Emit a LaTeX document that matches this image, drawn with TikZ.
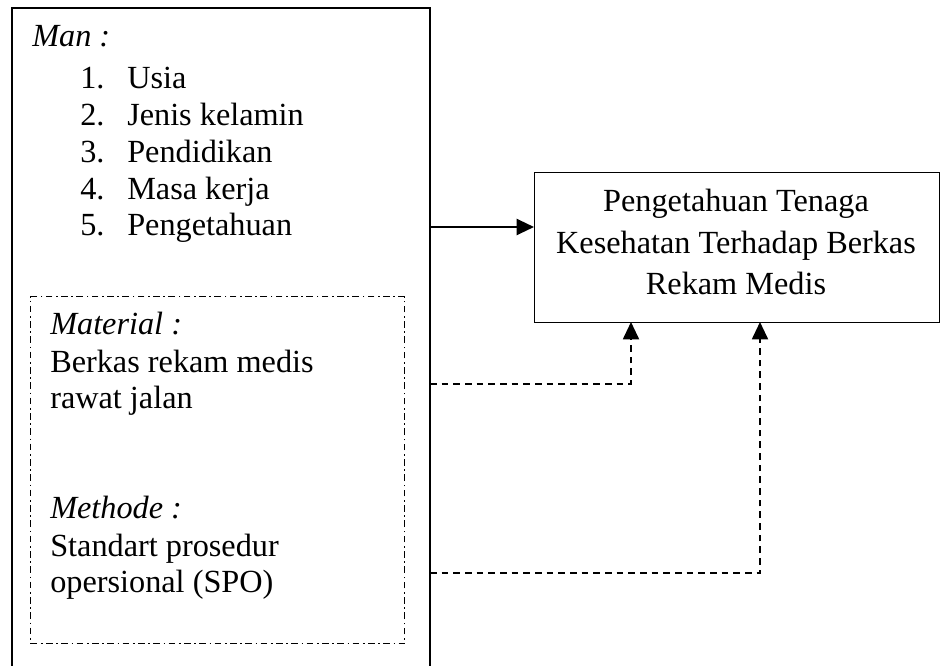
\documentclass[tikz,border=0pt]{standalone}
\usepackage{fontspec}
\setmainfont{Liberation Serif}
\usetikzlibrary{arrows.meta,calc}
\tikzset{
  txt/.style={anchor=base west, inner sep=0pt, font=\fontsize{24.2}{27.5}\selectfont},
  ctxt/.style={anchor=base, inner sep=0pt, font=\fontsize{24.2}{27.5}\selectfont},
  solidbox/.style={draw, line width=1.3pt, anchor=north west, inner sep=0pt},
  thinbox/.style={draw, line width=1.1pt, anchor=north west, inner sep=0pt},
  dotbox/.style={draw, line width=1.1pt, anchor=north west, inner sep=0pt,
    dash pattern=on 5pt off 2.6pt on 1.3pt off 2.6pt},
  solidarrow/.style={line width=1.6pt, -{Triangle[length=13pt,width=12pt]}},
  dasharrow/.style={line width=1.4pt, dash pattern=on 5pt off 3.75pt,
    -{Triangle[length=13pt,width=12pt]}}
}
\begin{document}
\begin{tikzpicture}[x=0.75pt,y=-0.75pt]
\useasboundingbox (0,0) rectangle (940,666);
\clip (0,0) rectangle (940,666);
% boxes
\node[solidbox, minimum width=313.5pt, minimum height=505pt] (man) at (11,7) {};
\node[dotbox, minimum width=280.5pt, minimum height=260.25pt] (mm) at (30,296) {};
\node[thinbox, minimum width=303.75pt, minimum height=112.5pt] (tgt) at (534,172) {};
% Man text
\node[txt] (manlbl) at (32,47) {\itshape Man :};
\node[txt] (n1) at (80,89) {1.};
\node[txt] (t1) at (127,89) {Usia};
\node[txt] (n2) at (80,126) {2.};
\node[txt] (t2) at (127,126) {Jenis kelamin};
\node[txt] (n3) at (80,163) {3.};
\node[txt] (t3) at (127,163) {Pendidikan};
\node[txt] (n4) at (80,199.5) {4.};
\node[txt] (t4) at (127,199.5) {Masa kerja};
\node[txt] (n5) at (80,236) {5.};
\node[txt] (t5) at (127,236) {Pengetahuan};
% Material / Methode
\node[txt] (matlbl) at (50,335) {\itshape Material :};
\node[txt] (mat1) at (50,373) {Berkas rekam medis};
\node[txt] (mat2) at (50,409) {rawat jalan};
\node[txt] (metlbl) at (50,519) {\itshape Methode :};
\node[txt] (met1) at (50,557) {Standart prosedur};
\node[txt] (met2) at (50,593) {opersional (SPO)};
% target text
\node[ctxt] (g1) at (736,212) {Pengetahuan Tenaga};
\node[ctxt] (g2) at (736,253.5) {Kesehatan Terhadap Berkas};
\node[ctxt] (g3) at (736,295) {Rekam Medis};
% connectors
\coordinate (a0) at (430,227);
\draw[solidarrow] (a0) -- (a0 -| tgt.west);
\coordinate (b0) at (430,384);
\coordinate (b1) at (631,322);
\draw[dasharrow] (b0) -| (b1);
\coordinate (c0) at (430,573);
\coordinate (c1) at (760,322);
\draw[dasharrow] (c0) -| (c1);
\end{tikzpicture}
\end{document}
